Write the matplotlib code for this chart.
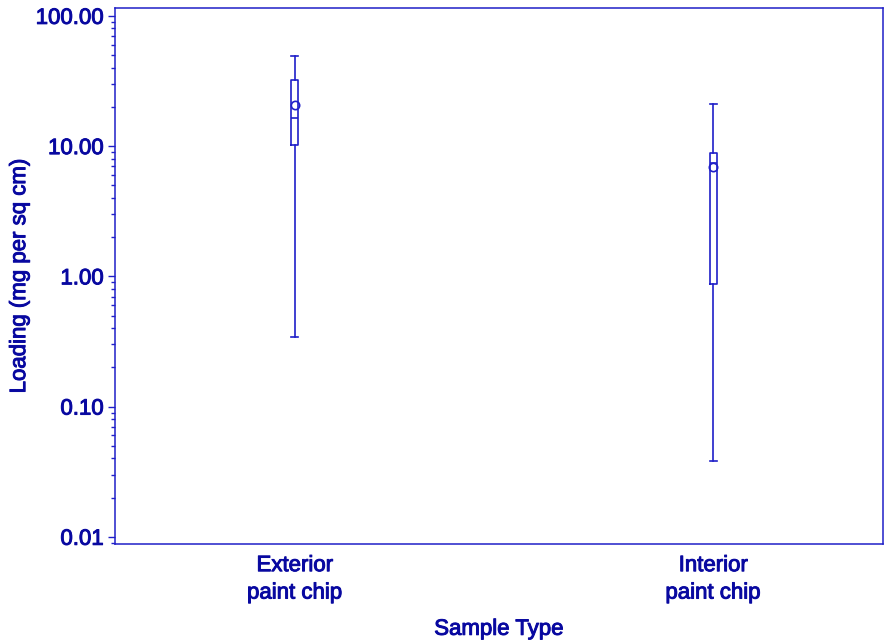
import matplotlib
matplotlib.use("Agg")
import matplotlib.pyplot as plt
import matplotlib.patheffects as pe
from matplotlib.ticker import FixedLocator, LogLocator, NullFormatter

# summary statistics per sample type (mg per sq cm)
categories = ["Exterior\npaint chip", "Interior\npaint chip"]
whisker_low = [0.34, 0.038]
q1 = [10.2, 0.88]
median = [16.4, 7.4]
mean = [20.6, 6.9]
q3 = [32.2, 8.8]
whisker_high = [49.0, 21.0]

line_color = "#1f1fc8"
text_color = "#0808a0"

plt.rcParams["font.family"] = ["Liberation Sans", "DejaVu Sans"]
# slightly heavier strokes than the regular face
heavy = [pe.withStroke(linewidth=0.7, foreground=text_color)]

fig = plt.figure(figsize=(8.84, 6.42), dpi=100)
ax = fig.add_axes([0.130, 0.1526, 0.869, 0.835])

stats = []
for i in range(len(categories)):
    stats.append({
        "med": median[i], "q1": q1[i], "q3": q3[i],
        "whislo": whisker_low[i], "whishi": whisker_high[i],
        "mean": mean[i], "fliers": [], "label": categories[i],
    })

lp = dict(color=line_color, linewidth=1.2)
ax.bxp(stats, positions=[1, 2], widths=0.017, showmeans=True,
       boxprops=lp, medianprops=lp, whiskerprops=lp,
       capprops=lp, showcaps=True, capwidths=0.017,
       meanprops=dict(marker="o", markerfacecolor="none",
                      markeredgecolor=line_color, markersize=6,
                      markeredgewidth=1.2))

ax.set_yscale("log")
ax.set_ylim(0.0088, 115)
ax.set_xlim(0.57, 2.406)

ax.yaxis.set_major_locator(FixedLocator([0.01, 0.1, 1, 10, 100]))
ax.set_yticklabels(["0.01", "0.10", "1.00", "10.00", "100.00"])
ax.yaxis.set_minor_locator(LogLocator(base=10, subs=range(2, 10)))
ax.yaxis.set_minor_formatter(NullFormatter())

ax.set_xticks([1, 2])
ax.set_xticklabels(categories, fontsize=16, color=text_color, linespacing=1.4)
ax.tick_params(axis="x", length=0, pad=8)
ax.tick_params(axis="y", which="major", length=5, width=1, color=line_color,
               labelsize=16, labelcolor=text_color, pad=3)
ax.tick_params(axis="y", which="minor", length=3, width=1, color=line_color)

for s in ax.spines.values():
    s.set_color(line_color)
    s.set_linewidth(1.1)

xl = ax.set_xlabel("Sample Type", fontsize=16, color=text_color, labelpad=11)
yl = ax.set_ylabel("Loading (mg per sq cm)", fontsize=16, color=text_color, labelpad=4)
for t in ax.get_xticklabels() + ax.get_yticklabels() + [xl, yl]:
    t.set_path_effects(heavy)

fig.savefig("out.png", dpi=100)
